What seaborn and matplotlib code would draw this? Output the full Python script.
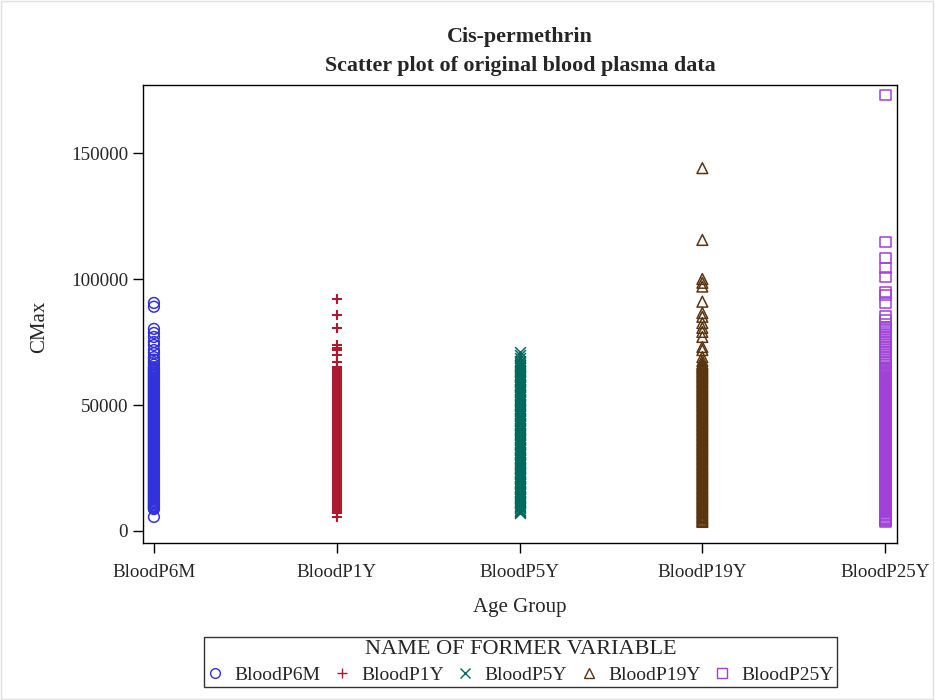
import matplotlib
matplotlib.use("Agg")
import matplotlib.pyplot as plt
import seaborn as sns
import pandas as pd
from matplotlib.lines import Line2D
from matplotlib.patches import Rectangle

groups = ["BloodP6M", "BloodP1Y", "BloodP5Y", "BloodP19Y", "BloodP25Y"]
colors = ["#3232DC", "#AD1A30", "#00695E", "#5A3510", "#A03FDA"]
markers = ["o", "+", "x", "^", "s"]

# CMax values: sparse high ones, then the dense band
p6m_cmax = [90500, 89000, 80200, 78600, 77000, 75000, 73800, 71800, 70600,
            69000, 68000, 67000, 66000, 65000, 64500,
            64000, 63500, 63000, 62500, 62000, 61500, 61000, 60500, 60000, 59500,
            59000, 58500, 58000, 57500, 57000, 56500, 56000, 55500, 55000, 54500,
            54000, 53500, 53000, 52500, 52000, 51500, 51000, 50500, 50000, 49500,
            49000, 48500, 48000, 47500, 47000, 46500, 46000, 45500, 45000, 44500,
            44000, 43500, 43000, 42500, 42000, 41500, 41000, 40500, 40000, 39500,
            39000, 38500, 38000, 37500, 37000, 36500, 36000, 35500, 35000, 34500,
            34000, 33500, 33000, 32500, 32000, 31500, 31000, 30500, 30000, 29500,
            29000, 28500, 28000, 27500, 27000, 26500, 26000, 25500, 25000, 24500,
            24000, 23500, 23000, 22500, 22000, 21500, 21000, 20500, 20000, 19500,
            19000, 18500, 18000, 17500, 17000, 16500, 16000, 15500, 15000, 14500,
            14000, 13500, 13000, 12500, 12000, 11500, 11000, 10500, 10000, 9500,
            9000, 8700, 5600]
p1y_cmax = [92000, 85700, 80500, 73800, 72600, 71800, 69800, 67000,
            65000, 64500,
            64000, 63500, 63000, 62500, 62000, 61500, 61000, 60500, 60000, 59500,
            59000, 58500, 58000, 57500, 57000, 56500, 56000, 55500, 55000, 54500,
            54000, 53500, 53000, 52500, 52000, 51500, 51000, 50500, 50000, 49500,
            49000, 48500, 48000, 47500, 47000, 46500, 46000, 45500, 45000, 44500,
            44000, 43500, 43000, 42500, 42000, 41500, 41000, 40500, 40000, 39500,
            39000, 38500, 38000, 37500, 37000, 36500, 36000, 35500, 35000, 34500,
            34000, 33500, 33000, 32500, 32000, 31500, 31000, 30500, 30000, 29500,
            29000, 28500, 28000, 27500, 27000, 26500, 26000, 25500, 25000, 24500,
            24000, 23500, 23000, 22500, 22000, 21500, 21000, 20500, 20000, 19500,
            19000, 18500, 18000, 17500, 17000, 16500, 16000, 15500, 15000, 14500,
            14000, 13500, 13000, 12500, 12000, 11500, 11000, 10500, 10000, 9500,
            9000, 8500, 8000, 7100, 5500]
p5y_cmax = [71000, 70000, 68500, 67500, 66500,
            66000, 65500, 65000, 64500,
            64000, 63500, 63000, 62500, 62000, 61500, 61000, 60500, 60000, 59500,
            59000, 58500, 58000, 57500, 57000, 56500, 56000, 55500, 55000, 54500,
            54000, 53500, 53000, 52500, 52000, 51500, 51000, 50500, 50000, 49500,
            49000, 48500, 48000, 47500, 47000, 46500, 46000, 45500, 45000, 44500,
            44000, 43500, 43000, 42500, 42000, 41500, 41000, 40500, 40000, 39500,
            39000, 38500, 38000, 37500, 37000, 36500, 36000, 35500, 35000, 34500,
            34000, 33500, 33000, 32500, 32000, 31500, 31000, 30500, 30000, 29500,
            29000, 28500, 28000, 27500, 27000, 26500, 26000, 25500, 25000, 24500,
            24000, 23500, 23000, 22500, 22000, 21500, 21000, 20500, 20000, 19500,
            19000, 18500, 18000, 17500, 17000, 16500, 16000, 15500, 15000, 14500,
            14000, 13500, 13000, 12500, 12000, 11500, 11000, 10500, 10000, 9500,
            9000, 8500, 8000, 7500, 7000]
p19y_cmax = [144000, 115500, 100000, 98500, 97000, 91000, 86500, 85000, 82500,
             80600, 79000, 77000, 73000, 71800, 69000, 67500, 66500,
             66000, 65500, 65000, 64500,
             64000, 63500, 63000, 62500, 62000, 61500, 61000, 60500, 60000, 59500,
             59000, 58500, 58000, 57500, 57000, 56500, 56000, 55500, 55000, 54500,
             54000, 53500, 53000, 52500, 52000, 51500, 51000, 50500, 50000, 49500,
             49000, 48500, 48000, 47500, 47000, 46500, 46000, 45500, 45000, 44500,
             44000, 43500, 43000, 42500, 42000, 41500, 41000, 40500, 40000, 39500,
             39000, 38500, 38000, 37500, 37000, 36500, 36000, 35500, 35000, 34500,
             34000, 33500, 33000, 32500, 32000, 31500, 31000, 30500, 30000, 29500,
             29000, 28500, 28000, 27500, 27000, 26500, 26000, 25500, 25000, 24500,
             24000, 23500, 23000, 22500, 22000, 21500, 21000, 20500, 20000, 19500,
             19000, 18500, 18000, 17500, 17000, 16500, 16000, 15500, 15000, 14500,
             14000, 13500, 13000, 12500, 12000, 11500, 11000, 10500, 10000, 9500,
             9000, 8500, 8000, 7500, 7000, 6500, 6000, 5500, 5000, 4500,
             4000, 3600]
p25y_cmax = [173000, 114700, 108300, 104400, 100800, 94800, 93700, 90500, 85000,
             83700, 82000, 81000, 80000, 79000, 78000, 77000, 76000, 75000, 74000,
             73000, 72000, 71000, 70000, 69000, 68000, 67000, 66000, 65000, 64500,
             64000, 63500, 63000, 62500, 62000, 61500, 61000, 60500, 60000, 59500,
             59000, 58500, 58000, 57500, 57000, 56500, 56000, 55500, 55000, 54500,
             54000, 53500, 53000, 52500, 52000, 51500, 51000, 50500, 50000, 49500,
             49000, 48500, 48000, 47500, 47000, 46500, 46000, 45500, 45000, 44500,
             44000, 43500, 43000, 42500, 42000, 41500, 41000, 40500, 40000, 39500,
             39000, 38500, 38000, 37500, 37000, 36500, 36000, 35500, 35000, 34500,
             34000, 33500, 33000, 32500, 32000, 31500, 31000, 30500, 30000, 29500,
             29000, 28500, 28000, 27500, 27000, 26500, 26000, 25500, 25000, 24500,
             24000, 23500, 23000, 22500, 22000, 21500, 21000, 20500, 20000, 19500,
             19000, 18500, 18000, 17500, 17000, 16500, 16000, 15500, 15000, 14500,
             14000, 13500, 13000, 12500, 12000, 11500, 11000, 10500, 10000, 9500,
             9000, 8500, 8000, 7500, 7000, 6500, 6000, 5500, 5000, 4500,
             4000, 3600]

values = [p6m_cmax, p1y_cmax, p5y_cmax, p19y_cmax, p25y_cmax]
df = pd.concat([pd.DataFrame({"group": g, "CMax": v}) for g, v in zip(groups, values)],
               ignore_index=True)

sns.set_style("ticks")
plt.rcParams["font.family"] = ["Liberation Serif", "DejaVu Serif"]

fig = plt.figure(figsize=(9.35, 7), dpi=100)
ax = fig.add_axes([0.1529, 0.2243, 0.8065, 0.6543])

for g, c, m in zip(groups, colors, markers):
    sub = df[df["group"] == g]
    lw = 1.5 if m == "+" else 1.1
    sns.scatterplot(data=sub, x="group", y="CMax", marker=m, s=60, color=c,
                    linewidth=lw, ax=ax, legend=False)
    pts = ax.collections[-1]
    if m in "o^s":
        pts.set_facecolor("none")
    pts.set_edgecolor(c)
    pts.set_linewidth(lw)

ax.set_xlim(-0.06, 4.065)
ax.set_ylim(-4760, 177000)
ax.set_yticks([0, 50000, 100000, 150000])
ax.set_yticklabels(["0", "50000", "100000", "150000"])
ax.tick_params(axis="both", labelsize=13.7, length=7.2, width=1, color="black")
ax.tick_params(axis="x", pad=8)
ax.tick_params(axis="y", pad=3.5)
for sp in ax.spines.values():
    sp.set_visible(True)
    sp.set_color("black")
    sp.set_linewidth(1)

ax.set_xlabel("Age Group", fontsize=15, labelpad=12)
ax.set_ylabel("CMax", fontsize=15, labelpad=16)
ax.yaxis.label.set_y(0.472)
ax.set_title("Cis-permethrin\nScatter plot of original blood plasma data",
             fontsize=15.8, fontweight="bold", pad=10, linespacing=1.6)

handles = []
for g, c, m in zip(groups, colors, markers):
    handles.append(Line2D([], [], linestyle="none", marker=m, markersize=7,
                          markerfacecolor="none", markeredgecolor=c,
                          markeredgewidth=1, label=g))
leg = fig.legend(handles=handles, loc="center", bbox_to_anchor=(0.5567, 0.0543),
                 ncol=5, title="NAME OF FORMER VARIABLE", fontsize=14,
                 title_fontsize=16, frameon=True, fancybox=False, borderpad=0.15,
                 labelspacing=0.35, handletextpad=0.6, columnspacing=0.7,
                 handlelength=0.8, borderaxespad=0)
leg.get_frame().set_edgecolor("black")
leg.get_frame().set_linewidth(1)

fig.patches.append(Rectangle((0.001, 0.001), 0.997, 0.997, transform=fig.transFigure,
                             fill=False, edgecolor="#e0e0e0", linewidth=1))

fig.savefig("out.png", dpi=100)
